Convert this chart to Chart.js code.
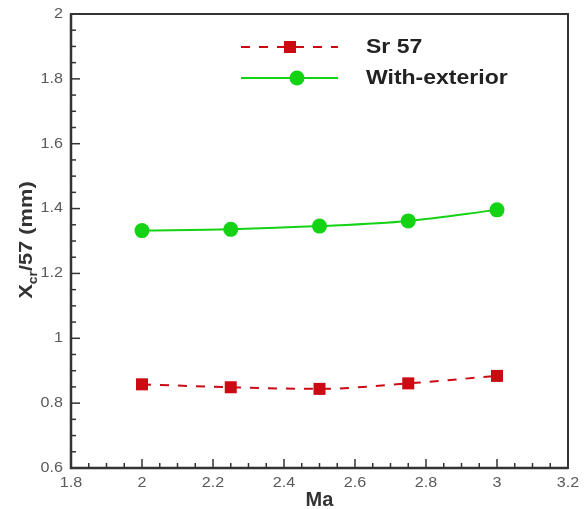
<!DOCTYPE html>
<html>
<head>
<meta charset="utf-8">
<script src="https://cdn.jsdelivr.net/npm/chart.js@4/dist/chart.umd.min.js"></script>
<style>
html,body{margin:0;padding:0;background:#fff;}
#wrap{width:587px;height:509px;position:relative;}
</style>
</head>
<body>
<div id="wrap"><canvas id="c" width="587" height="509"></canvas></div>
<script>
const machNumbers = [2, 2.25, 2.5, 2.75, 3];
const sr57 = [0.858, 0.849, 0.844, 0.861, 0.884];
const withExterior = [1.332, 1.336, 1.346, 1.362, 1.396];
const xTicks = [1.8, 2, 2.2, 2.4, 2.6, 2.8, 3, 3.2];
const yTicks = [0.6, 0.8, 1, 1.2, 1.4, 1.6, 1.8, 2];
const seriesNames = ['Sr 57', 'With-exterior'];

const redCol = '#cc0a14';
const greenCol = '#14d214';
const FONT = '"Liberation Sans", Arial, sans-serif';
const STRETCH = 1.15;

function stretchedText(ctx, text, x, y, align) {
  ctx.save();
  ctx.translate(x, y);
  ctx.scale(STRETCH, 1);
  ctx.textAlign = align;
  ctx.fillText(text, 0, 0);
  ctx.restore();
}

const axesPlugin = {
  id: 'axesPlugin',
  afterDraw(chart) {
    const ctx = chart.ctx;
    const a = chart.chartArea;
    const xs = chart.scales.x, ys = chart.scales.y;
    ctx.save();
    // frame
    ctx.strokeStyle = '#333';
    ctx.lineWidth = 2;
    ctx.strokeRect(a.left, a.top, a.right - a.left, a.bottom - a.top);
    ctx.lineWidth = 2.5;
    ctx.beginPath();
    ctx.moveTo(a.left, a.top); ctx.lineTo(a.left, a.bottom); ctx.lineTo(a.right, a.bottom);
    ctx.stroke();
    // ticks
    ctx.lineWidth = 1.5;
    ctx.strokeStyle = '#333';
    for (let i = 0; i < xTicks.length - 1; i++) {
      for (let k = 0; k < 4; k++) {
        const v = xTicks[i] + (xTicks[i+1] - xTicks[i]) * k / 4;
        const px = xs.getPixelForValue(v);
        const len = k === 0 ? 9 : 5;
        ctx.beginPath(); ctx.moveTo(px, a.bottom); ctx.lineTo(px, a.bottom - len); ctx.stroke();
      }
    }
    for (let i = 0; i < yTicks.length - 1; i++) {
      for (let k = 0; k < 4; k++) {
        const v = yTicks[i] + (yTicks[i+1] - yTicks[i]) * k / 4;
        const py = ys.getPixelForValue(v);
        const len = k === 0 ? 9 : 5;
        ctx.beginPath(); ctx.moveTo(a.left, py); ctx.lineTo(a.left + len, py); ctx.stroke();
      }
    }
    // tick labels
    ctx.fillStyle = '#5a5a5a';
    ctx.font = '14px ' + FONT;
    ctx.textBaseline = 'middle';
    xTicks.forEach(v => stretchedText(ctx, String(v), xs.getPixelForValue(v), a.bottom + 15, 'center'));
    yTicks.forEach(v => stretchedText(ctx, String(v), a.left - 8, ys.getPixelForValue(v), 'right'));
    // axis titles
    ctx.fillStyle = '#333';
    ctx.font = 'bold 20px ' + FONT;
    ctx.textAlign = 'center'; ctx.textBaseline = 'alphabetic';
    ctx.fillText('Ma', (a.left + a.right) / 2, 506);
    ctx.save();
    ctx.translate(32, 240);
    ctx.rotate(-Math.PI / 2);
    ctx.scale(STRETCH, 1);
    ctx.textAlign = 'left';
    const p1 = 'X', sub = 'cr', p2 = '/57 (mm)';
    ctx.font = 'bold 19px ' + FONT;
    const w1 = ctx.measureText(p1).width;
    const w3 = ctx.measureText(p2).width;
    ctx.font = 'bold 12px ' + FONT;
    const w2 = ctx.measureText(sub).width;
    const total = w1 + w2 + w3;
    let x0 = -total / 2;
    ctx.font = 'bold 19px ' + FONT;
    ctx.fillText(p1, x0, 0);
    ctx.font = 'bold 12px ' + FONT;
    ctx.fillText(sub, x0 + w1, 5);
    ctx.font = 'bold 19px ' + FONT;
    ctx.fillText(p2, x0 + w1 + w2, 0);
    ctx.restore();
    // legend
    const rows = [
      {y: 47, col: redCol, dash: [9, 9], name: seriesNames[0], square: true},
      {y: 78, col: greenCol, dash: [], name: seriesNames[1], square: false}
    ];
    rows.forEach(r => {
      ctx.strokeStyle = r.col; ctx.lineWidth = 2; ctx.setLineDash(r.dash);
      ctx.beginPath(); ctx.moveTo(241, r.y); ctx.lineTo(338, r.y); ctx.stroke();
      ctx.setLineDash([]);
      ctx.fillStyle = r.col;
      if (r.square) ctx.fillRect(290 - 6, r.y - 6, 12, 12);
      else { ctx.beginPath(); ctx.arc(297, r.y, 7.5, 0, Math.PI * 2); ctx.fill(); }
      ctx.fillStyle = '#222';
      ctx.font = 'bold 20px ' + FONT;
      ctx.textBaseline = 'middle';
      stretchedText(ctx, r.name, 366, r.y, 'left');
    });
    ctx.restore();
  }
};

new Chart(document.getElementById('c'), {
  type: 'line',
  data: {
    datasets: [
      {
        label: seriesNames[0],
        data: machNumbers.map((m, i) => ({x: m, y: sr57[i]})),
        borderColor: redCol, backgroundColor: redCol,
        borderWidth: 2, borderDash: [9, 9],
        pointStyle: 'rect', pointRadius: 8.5, pointBorderWidth: 0,
        cubicInterpolationMode: 'monotone'
      },
      {
        label: seriesNames[1],
        data: machNumbers.map((m, i) => ({x: m, y: withExterior[i]})),
        borderColor: greenCol, backgroundColor: greenCol,
        borderWidth: 2,
        pointStyle: 'circle', pointRadius: 7.5, pointBorderWidth: 0,
        cubicInterpolationMode: 'monotone'
      }
    ]
  },
  options: {
    responsive: false,
    animation: false,
    layout: {padding: {left: 71, top: 14, right: 19, bottom: 41}},
    plugins: {legend: {display: false}, tooltip: {enabled: false}},
    scales: {
      x: {type: 'linear', min: 1.8, max: 3.2, display: false},
      y: {type: 'linear', min: 0.6, max: 2, display: false}
    }
  },
  plugins: [axesPlugin]
});
</script>
</body>
</html>
